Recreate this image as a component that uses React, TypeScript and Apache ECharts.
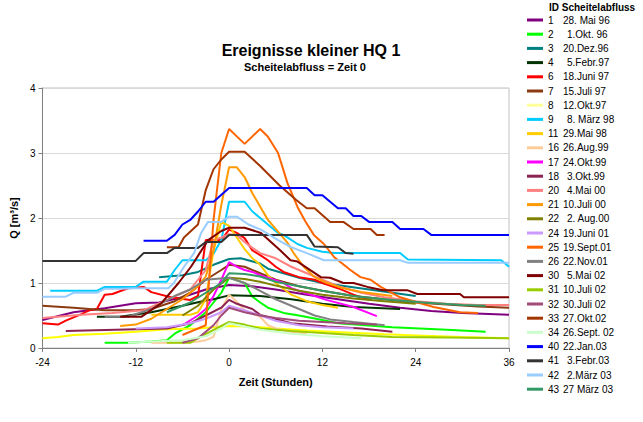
import React, { useEffect, useRef } from "react";
import * as echarts from "echarts";

const FONT = "'Liberation Sans', Arial, sans-serif";

const ids = ["1", "2", "3", "4", "6", "7", "8", "9", "11", "16", "17", "18", "20", "21", "22", "24", "25", "26", "30", "31", "32", "33", "34", "40", "41", "42", "43"];
const dates = ["28. Mai 96", "1.Okt. 96", "20.Dez.96", "5.Febr.97", "18.Juni 97", "15.Juli 97", "12.Okt.97", "8. März 98", "29.Mai 98", "26.Aug.99", "24.Okt.99", "3.Okt.99", "4.Mai 00", "10.Juli 00", "2. Aug.00", "19.Juni 01", "19.Sept.01", "22.Nov.01", "5.Mai 02", "10.Juli 02", "30.Juli 02", "27.Okt.02", "26.Sept. 02", "22.Jan.03", "3.Febr.03", "2.März 03", "27 März 03"];
const colors = ["#800080", "#00ff00", "#008080", "#003300", "#ff0000", "#8b3a12", "#ffff00", "#00ccff", "#ffcc00", "#ffcc99", "#ff00ff", "#8b2252", "#ff8080", "#ff9900", "#808000", "#cc99ff", "#ff6600", "#808080", "#800000", "#99cc00", "#a24a7a", "#a33500", "#ccffcc", "#0000ff", "#333333", "#99ccff", "#339966"];

type P = [number, number][];
const s1: P = [[-24, 0.43], [-20, 0.55], [-16, 0.61], [-12, 0.69], [-9, 0.7], [-6, 0.78], [-3, 0.9], [0, 0.97], [3, 0.95], [6, 0.9], [10, 0.82], [14, 0.75], [18, 0.68], [22, 0.62], [26, 0.57], [30, 0.54], [36, 0.51]];
const s2: P = [[-16, 0.08], [-13, 0.08], [-10, 0.1], [-8, 0.12], [-7, 0.22], [-5, 0.35], [-3, 0.55], [-1, 0.85], [0, 1.08], [1, 1.04], [2, 1.0], [3, 0.79], [4, 0.7], [5, 0.62], [7, 0.54], [9, 0.5], [12, 0.43], [14, 0.38], [21, 0.32], [28, 0.28], [33, 0.25]];
const s3: P = [[-9, 1.09], [-6, 1.12], [-4, 1.17], [-2, 1.28], [0, 1.37], [1.5, 1.38], [4, 1.3], [5, 1.22], [7, 1.15], [9, 1.08], [12, 1.0], [15, 0.95], [18, 0.9], [21, 0.85], [24, 0.8]];
const s4: P = [[-17, 0.48], [-14, 0.48], [-10, 0.55], [-6, 0.65], [-3, 0.73], [-2, 0.75], [0, 0.81], [4, 0.8], [8, 0.75], [12, 0.68], [16, 0.63], [22, 0.6]];
const s6: P = [[-24, 0.38], [-22, 0.36], [-21, 0.42], [-19, 0.52], [-18, 0.58], [-17, 0.6], [-16, 0.82], [-15, 0.83], [-13, 0.92], [-11, 0.94], [-10, 0.86], [-7.5, 0.78], [-5, 0.74], [-4, 0.8], [-3, 1.66], [-1, 1.66], [0, 1.82], [1, 1.77], [2, 1.69], [3, 1.5], [4, 1.43], [5, 1.35], [6, 1.25], [7, 1.17], [9, 1.09], [10, 1.07], [11, 1.05], [12, 1.0], [14, 0.92], [16, 0.82], [18, 0.74]];
const s7: P = [[-24, 0.65], [-20, 0.62], [-16, 0.58], [-12, 0.58], [-10, 0.6], [-7, 0.72], [-5, 0.85], [-3, 1.05], [-1, 1.2], [0, 1.28], [2, 1.25], [4, 1.15], [6, 1.05], [9, 0.95], [12, 0.88], [16, 0.8], [20, 0.75], [24, 0.7], [28, 0.67], [32, 0.64], [36, 0.62]];
const s8: P = [[-24, 0.15], [-22, 0.17], [-20, 0.2], [-16, 0.22], [-12, 0.25], [-8, 0.29], [-4, 0.3], [0, 0.34], [3, 0.33], [6, 0.3], [10, 0.27], [15, 0.24], [20, 0.21], [25, 0.19], [30, 0.17], [36, 0.15]];
const s9: P = [[-23, 0.88], [-17, 0.88], [-16, 0.94], [-12, 0.94], [-11, 1.02], [-8, 1.02], [-7, 1.2], [-6, 1.35], [-3, 1.35], [-2, 1.45], [-1, 1.66], [0, 2.25], [2, 2.25], [3, 2.1], [4, 2.0], [6.3, 1.77], [7, 1.74], [8.8, 1.6], [10, 1.54], [12, 1.48], [13.5, 1.46], [22, 1.46], [23, 1.36], [35, 1.35], [36, 1.25]];
const s11: P = [[-10, 0.51], [-5, 0.51], [-4, 0.55], [-3, 0.75], [-2, 1.5], [-1, 1.94], [0, 1.88], [1, 1.7], [2, 1.52], [3, 1.38], [4, 1.28], [5, 1.12], [6, 1.0], [8, 0.82], [10, 0.72], [12, 0.66], [14, 0.62]];
const s16: P = [[-10, 0.08], [-6, 0.08], [-4, 0.1], [-3, 0.12], [-2, 0.17], [-1, 0.6], [0, 0.82], [1, 0.71], [2, 0.58], [4, 0.48], [5, 0.35], [6, 0.3], [8, 0.25], [10, 0.22]];
const s17: P = [[-6, 0.35], [-4, 0.5], [-3, 0.6], [-2, 0.8], [-1, 1.05], [0, 1.32], [1, 1.25], [2, 1.2], [3, 1.17], [4, 1.12], [7, 1.0], [8, 0.92], [12.5, 0.74], [16, 0.63], [19, 0.49]];
const s18: P = [[-21, 0.26], [-12, 0.29], [-8, 0.3], [-5, 0.38], [-3, 0.5], [-1, 0.62], [0, 0.74], [1, 0.68], [3, 0.6], [4, 0.51], [8, 0.38], [12.6, 0.33], [17, 0.3], [21, 0.25]];
const s20: P = [[-24, 0.46], [-19, 0.51], [-15, 0.54], [-11, 0.58], [-8, 0.74], [-5, 0.9], [-3, 1.2], [-2, 1.66], [-1, 1.7], [0, 1.75], [1, 1.74], [2, 1.63], [3, 1.54], [4, 1.46], [6, 1.38], [8, 1.25], [10, 1.15], [12, 1.05], [14, 0.95], [17, 0.85], [20, 0.78], [24, 0.72], [28, 0.68], [32, 0.66], [36, 0.66]];
const s21: P = [[-14, 0.34], [-12, 0.36], [-10, 0.45], [-8, 0.6], [-6, 0.75], [-4, 0.95], [-3, 1.1], [-2, 1.5], [-1, 2.2], [0, 2.78], [1, 2.78], [2, 2.63], [3, 2.38], [5, 1.97], [7.5, 1.62], [8.3, 1.46], [9.6, 1.25], [11, 1.09], [12.6, 1.0], [14.7, 0.92], [17, 0.86], [21, 0.8]];
const s22: P = [[-6, 0.5], [-4, 0.65], [-2, 0.9], [0, 1.08], [2, 1.06], [4, 1.02], [6, 0.96], [9, 0.88], [12, 0.82], [16, 0.76], [20, 0.72], [24, 0.68]];
const s24: P = [[-12, 0.3], [-8, 0.32], [-5, 0.38], [-3, 0.45], [-1, 0.55], [0, 0.65], [2, 0.58], [4, 0.5], [6, 0.42], [9, 0.35], [12, 0.32], [16, 0.3]];
const s25: P = [[-6, 0.2], [-3, 0.35], [-2, 1.97], [-1, 3.0], [0, 3.37], [2, 3.14], [4, 3.37], [5, 3.25], [6.3, 3.0], [7.5, 2.54], [8.8, 2.17], [9.8, 1.95], [10.9, 1.74], [12.2, 1.6], [13.5, 1.4], [15.6, 1.2], [16.9, 1.09], [18.2, 1.05], [19.5, 0.94], [22, 0.78], [23.7, 0.72], [26.3, 0.63], [29.7, 0.55], [32, 0.54]];
const s26: P = [[-16, 0.48], [-13, 0.48], [-10, 0.6], [-7, 0.8], [-5, 0.9], [-3, 1.05], [0, 1.08], [2, 1.0], [4, 0.88], [6, 0.75], [8, 0.65], [11, 0.5], [13, 0.44], [16, 0.4], [20, 0.35]];
const s30: P = [[-14, 0.48], [-11.3, 0.48], [-8.7, 0.69], [-6.5, 1.0], [-4.9, 1.25], [-2.7, 1.66], [-1, 1.8], [0, 1.85], [2, 1.85], [4.1, 1.77], [6.6, 1.5], [7.9, 1.35], [8.8, 1.33], [11.8, 1.09], [13, 1.08], [14.7, 1.0], [16, 1.0], [17.8, 0.94], [19.8, 0.89], [22.9, 0.89], [24.2, 0.83], [29.7, 0.83], [30.2, 0.78], [36, 0.78]];
const s31: P = [[-8, 0.08], [-5, 0.08], [-4, 0.15], [-2, 0.28], [0, 0.4], [2, 0.36], [4, 0.3], [8, 0.26], [12, 0.23], [16, 0.2], [21, 0.17], [28, 0.16], [36, 0.15]];
const s32: P = [[-6, 0.08], [-4, 0.15], [-3, 0.25], [-2, 0.35], [-1, 0.5], [0, 0.62], [2, 0.55], [4, 0.5], [6, 0.46], [9, 0.42], [12, 0.4], [15, 0.38], [19, 0.36]];
const s33: P = [[-8, 1.55], [-6.5, 1.55], [-5.8, 1.7], [-4, 1.9], [-3, 2.43], [-2, 2.75], [-1, 2.9], [0, 3.02], [2, 3.02], [4, 2.8], [6.5, 2.5], [8.6, 2.28], [10, 2.15], [11, 2.15], [13, 1.94], [14.7, 1.94], [16, 1.83], [18.2, 1.83], [19, 1.74], [20, 1.74]];
const s34: P = [[-13, 0.08], [-10, 0.1], [-6, 0.12], [-3, 0.18], [-1, 0.3], [0, 0.38], [2, 0.33], [4, 0.28], [8, 0.22], [12, 0.18], [17, 0.15]];
const s40: P = [[-11, 1.65], [-8, 1.65], [-7, 1.74], [-6, 1.9], [-5, 1.97], [-4, 2.1], [-3, 2.25], [-2, 2.25], [0, 2.46], [10, 2.46], [11, 2.35], [12, 2.35], [14, 2.15], [15, 2.15], [16, 2.03], [17, 2.03], [18, 1.94], [21, 1.94], [22, 1.83], [25, 1.83], [26, 1.74], [36, 1.74]];
const s41: P = [[-24, 1.34], [-12, 1.34], [-11, 1.46], [-8, 1.46], [-7, 1.54], [-4, 1.54], [-3, 1.63], [-1, 1.63], [0, 1.74], [10, 1.74], [11, 1.56], [14, 1.55], [15, 1.46], [16, 1.45]];
const s42: P = [[-24, 0.79], [-21, 0.79], [-20, 0.85], [-17, 0.85], [-16, 0.91], [-14, 0.91], [-12, 0.92], [-7.8, 0.92], [-7.1, 1.0], [-5.8, 1.25], [-4.5, 1.46], [-3.6, 1.77], [-2.7, 1.94], [-1, 1.94], [0, 2.02], [1, 2.02], [2.5, 1.9], [4.1, 1.82], [6.3, 1.66], [8, 1.55], [10, 1.46], [12.2, 1.35], [22, 1.35], [23, 1.31], [36, 1.31]];
const s43: P = [[-8, 0.55], [-5, 0.7], [-3, 0.85], [-1, 1.0], [0, 1.15], [2, 1.14], [4, 1.1], [6, 1.02], [9, 0.95], [12, 0.88], [16, 0.8], [20, 0.75], [25, 0.7], [30, 0.66], [33, 0.65]];

const seriesValues: P[] = [s1, s2, s3, s4, s6, s7, s8, s9, s11, s16, s17, s18, s20, s21, s22, s24, s25, s26, s30, s31, s32, s33, s34, s40, s41, s42, s43];
const xTicks = { min: -24, max: 36, step: 12 };
const yTicks = { min: 0, max: 4, step: 1 };

export default function App() {
  const ref = useRef<HTMLDivElement>(null);
  useEffect(() => {
    const chart = echarts.init(ref.current!, null, { renderer: "svg" });
    const dateOf: Record<string, string> = {};
    ids.forEach((id, i) => (dateOf[id] = dates[i]));
    const single = (d: string) => /^\d[^\d]/.test(d);
    chart.setOption({
      animation: false,
      backgroundColor: "#ffffff",
      textStyle: { fontFamily: FONT },
      grid: { left: 41, top: 88, width: 468, height: 260, show: true, borderColor: "#c0c0c0", borderWidth: 1, backgroundColor: "transparent" },
      xAxis: {
        type: "value", min: xTicks.min, max: xTicks.max, interval: xTicks.step,
        name: "Zeit (Stunden)", nameLocation: "middle", nameGap: 28,
        nameTextStyle: { fontFamily: FONT, fontSize: 11, fontWeight: "bold", color: "#000" },
        axisLine: { show: true, onZero: false, lineStyle: { color: "#808080", width: 1 } },
        axisTick: { show: true, length: 4, lineStyle: { color: "#808080" } },
        axisLabel: { fontFamily: FONT, fontSize: 10, color: "#000", margin: 9 },
        splitLine: { show: false },
      },
      yAxis: {
        type: "value", min: yTicks.min, max: yTicks.max, interval: yTicks.step,
        name: "Q [m³/s]", nameLocation: "middle", nameGap: 10, nameRotate: 90,
        nameTextStyle: { fontFamily: FONT, fontSize: 11, fontWeight: "bold", color: "#000" },
        axisLine: { show: true, onZero: false, lineStyle: { color: "#808080", width: 1 } },
        axisTick: { show: true, length: 4, lineStyle: { color: "#808080" } },
        axisLabel: { fontFamily: FONT, fontSize: 10, color: "#000", margin: 7 },
        splitLine: { show: true, lineStyle: { color: "#d9d9d9", width: 1 } },
      },
      legend: {
        orient: "vertical", left: 527, top: 13, padding: 0, itemGap: 0.2,
        itemWidth: 16, itemHeight: 3, icon: "rect", selectedMode: false,
        data: ids.map((id) => (id === "8" ? { name: id, itemStyle: { color: "#ffff99" } } : { name: id })),
        formatter: (name: string) => `{id|${name}}` + (single(dateOf[name]) ? "{p| }" : "") + `{d|${dateOf[name]}}`,
        textStyle: {
          fontFamily: FONT, fontSize: 10, color: "#000", lineHeight: 14,
          rich: {
            id: { width: 15, fontFamily: FONT, fontSize: 10, lineHeight: 14, color: "#000" },
            p: { width: 4, fontFamily: FONT, fontSize: 10, lineHeight: 14 },
            d: { fontFamily: FONT, fontSize: 10, lineHeight: 14, color: "#000" },
          },
        },
      },
      graphic: [
        { type: "text", x: 311, y: 50, style: { text: "Ereignisse kleiner HQ 1", fontFamily: FONT, fontSize: 16, fontWeight: "bold", fill: "#000", align: "center", verticalAlign: "middle", textAlign: "center", textVerticalAlign: "middle" } },
        { type: "text", x: 305, y: 67, style: { text: "Scheitelabfluss = Zeit 0", fontFamily: FONT, fontSize: 11, fontWeight: "bold", fill: "#000", align: "center", verticalAlign: "middle", textAlign: "center", textVerticalAlign: "middle" } },
        { type: "text", x: 549, y: 7, style: { text: "ID Scheitelabfluss", fontFamily: FONT, fontSize: 10, fontWeight: "bold", fill: "#000", align: "left", verticalAlign: "middle", textAlign: "left", textVerticalAlign: "middle" } },
      ],
      series: ids.map((id, i) => ({
        name: id, type: "line", data: seriesValues[i], showSymbol: false, symbol: "none",
        color: colors[i], lineStyle: { color: colors[i], width: 2 }, z: 2 + i, silent: true,
      })),
    });
    return () => chart.dispose();
  }, []);
  return <div ref={ref} style={{ position: "fixed", left: 0, top: 0, width: 643, height: 422, background: "#fff" }} />;
}
